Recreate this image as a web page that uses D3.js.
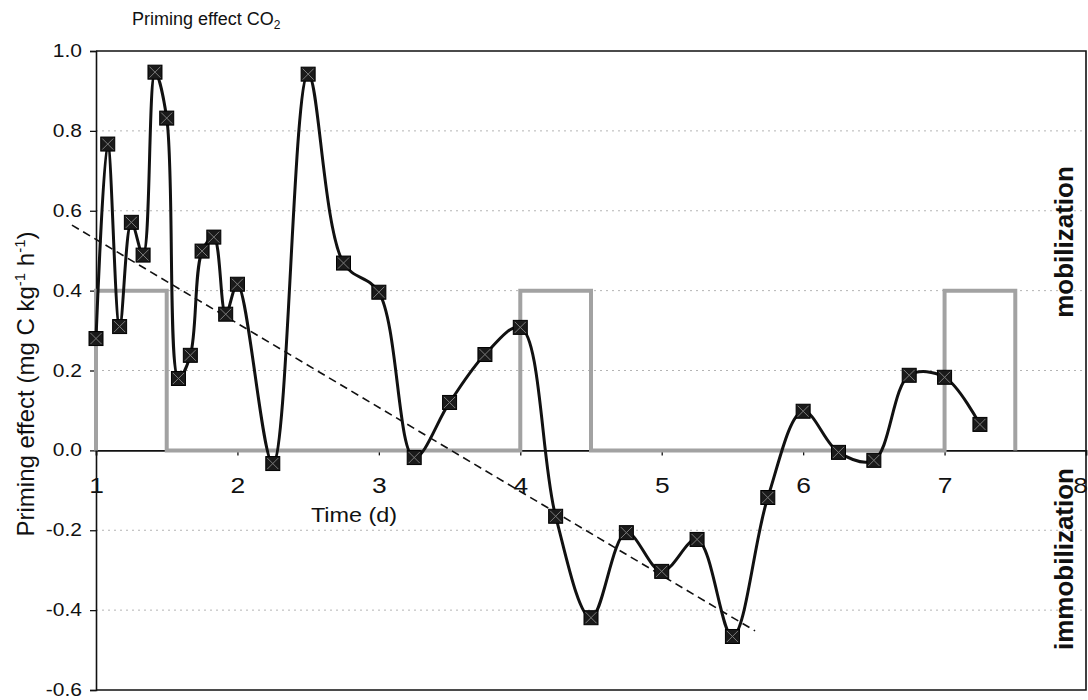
<!DOCTYPE html>
<html>
<head>
<meta charset="utf-8">
<script src="https://cdn.jsdelivr.net/npm/d3@7"></script>
<style>
  body { margin: 0; background: #fff; }
  text { font-family: "Liberation Sans", Arial, sans-serif; fill: #111; }
</style>
</head>
<body>
<script>
// Priming effect measurements (time in days, mg C kg-1 h-1)
const times = [1.0, 1.083, 1.167, 1.25, 1.333, 1.417, 1.5, 1.583, 1.667, 1.75, 1.833, 1.917, 2.0,
               2.25, 2.5, 2.75, 3.0, 3.25, 3.5, 3.75, 4.0, 4.25, 4.5, 4.75, 5.0, 5.25, 5.5, 5.75,
               6.0, 6.25, 6.5, 6.75, 7.0, 7.25];
const priming = [0.28, 0.767, 0.31, 0.571, 0.489, 0.947, 0.832, 0.18, 0.238, 0.499, 0.534, 0.341, 0.416,
                 -0.033, 0.942, 0.469, 0.396, -0.018, 0.12, 0.24, 0.308, -0.165, -0.419, -0.206, -0.303, -0.223, -0.466, -0.118,
                 0.098, -0.005, -0.025, 0.188, 0.183, 0.065];

// substrate pulses (grey step line)
const pulseTime  = [1, 1, 1.5, 1.5, 4, 4, 4.5, 4.5, 7, 7, 7.5, 7.5];
const pulseValue = [0, 0.4, 0.4, 0, 0, 0.4, 0.4, 0, 0, 0.4, 0.4, 0];

// linear trend (dashed)
const trendTime  = [0.83, 5.66];
const trendValue = [0.564, -0.452];

// axis ticks
const xTicks = [1, 2, 3, 4, 5, 6, 7, 8];
const xTickLabels = ["1", "2", "3", "4", "5", "6", "7", "8"];
const yTicks = [-0.6, -0.4, -0.2, 0, 0.2, 0.4, 0.6, 0.8, 1.0];
const yTickLabels = ["-0.6", "-0.4", "-0.2", "0.0", "0.2", "0.4", "0.6", "0.8", "1.0"];
const gridValues = [-0.4, -0.2, 0.2, 0.4, 0.6, 0.8];

const W = 1088, H = 700;
const sx = 1.2; // the scan is a bit wider than tall

const svg = d3.select("body").append("svg")
    .attr("width", W)
    .attr("height", H);

const x = d3.scaleLinear().domain([1, 8]).range([96, 1086]);
const y = d3.scaleLinear().domain([-0.6, 1.0]).range([690, 51]);

// dotted grid
svg.append("g")
   .selectAll("line")
   .data(gridValues)
   .enter()
   .append("line")
   .attr("x1", x(1)).attr("x2", x(8))
   .attr("y1", d => y(d)).attr("y2", d => y(d))
   .attr("stroke", "#b4b4b4")
   .attr("stroke-width", 1)
   .attr("stroke-dasharray", "2,4");

// frame (top, right, bottom)
svg.append("path")
   .attr("d", `M${x(1)},${y(1)}H${x(8)}V${y(-0.6)}H${x(1)}`)
   .attr("fill", "none")
   .attr("stroke", "#111")
   .attr("stroke-width", 1.6);

// y axis
const yAxis = svg.append("g")
   .attr("transform", `translate(${x(1)},0)`)
   .call(d3.axisLeft(y).tickValues(yTicks).tickSize(6).tickPadding(8)
           .tickFormat((d, i) => yTickLabels[i]));
yAxis.select(".domain").attr("stroke", "#111").attr("stroke-width", 1.6);
yAxis.selectAll(".tick line").attr("stroke", "#111").attr("stroke-width", 1.3);
yAxis.selectAll(".tick text")
     .attr("x", -14 / sx)
     .attr("transform", `scale(${sx},1)`)
     .style("font-size", "17.5px")
     .style("font-family", "'Liberation Sans', Arial, sans-serif")
     .attr("fill", "#111");

// x axis at zero
const xAxis = svg.append("g")
   .attr("transform", `translate(0,${y(0)})`)
   .call(d3.axisBottom(x).tickValues(xTicks).tickSize(5).tickPadding(22)
           .tickFormat((d, i) => xTickLabels[i]));
xAxis.select(".domain").attr("stroke", "#111").attr("stroke-width", 1.6);
xAxis.selectAll(".tick line").attr("stroke", "#111").attr("stroke-width", 1.3);
xAxis.selectAll(".tick text")
     .attr("transform", `scale(${sx},1)`)
     .style("font-size", "22px")
     .style("font-family", "'Liberation Sans', Arial, sans-serif")
     .attr("fill", "#111");
// last label sits on the right frame, keep it inside the page
xAxis.selectAll(".tick text")
     .filter(d => d === 8)
     .attr("text-anchor", "end")
     .attr("x", 1.5 / sx);

// grey pulse line
const pulseLine = d3.line()
    .x((d, i) => x(pulseTime[i]))
    .y(d => y(d));
svg.append("path")
   .datum(pulseValue)
   .attr("d", pulseLine)
   .attr("fill", "none")
   .attr("stroke", "#a2a2a2")
   .attr("stroke-width", 4);

// dashed trend
const trendLine = d3.line()
    .x((d, i) => x(trendTime[i]))
    .y(d => y(d));
svg.append("path")
   .datum(trendValue)
   .attr("d", trendLine)
   .attr("fill", "none")
   .attr("stroke", "#111")
   .attr("stroke-width", 1.6)
   .attr("stroke-dasharray", "8,5");

// smoothed priming curve
const curve = d3.line()
    .x((d, i) => x(times[i]))
    .y(d => y(d))
    .curve(d3.curveCatmullRom.alpha(0.5));
svg.append("path")
   .datum(priming)
   .attr("d", curve)
   .attr("fill", "none")
   .attr("stroke", "#111")
   .attr("stroke-width", 3);

// markers: dark square with a cross
const ms = 14;
const markers = svg.append("g")
   .selectAll("g")
   .data(priming)
   .enter()
   .append("g")
   .attr("transform", (d, i) => `translate(${x(times[i])},${y(d)})`);
markers.append("rect")
   .attr("x", -ms / 2).attr("y", -ms / 2)
   .attr("width", ms).attr("height", ms)
   .attr("fill", "#1a1a1a")
   .attr("stroke", "#000")
   .attr("stroke-width", 1);
markers.append("path")
   .attr("d", `M${-ms / 2 + 1.5},${-ms / 2 + 1.5}L${ms / 2 - 1.5},${ms / 2 - 1.5}M${ms / 2 - 1.5},${-ms / 2 + 1.5}L${-ms / 2 + 1.5},${ms / 2 - 1.5}`)
   .attr("stroke", "#7a7a7a")
   .attr("stroke-width", 1);

// title
const title = svg.append("text")
   .attr("x", 132)
   .attr("y", 25)
   .style("font-size", "18px");
title.append("tspan").text("Priming effect CO");
title.append("tspan").attr("dy", 4).style("font-size", "12px").text("2");

// x axis title
svg.append("text")
   .attr("transform", `translate(354,522) scale(${sx},1)`)
   .attr("text-anchor", "middle")
   .style("font-size", "19.5px")
   .text("Time (d)");

// y axis title
const yTitle = svg.append("text")
   .attr("transform", "translate(34,384) rotate(-90)")
   .attr("text-anchor", "middle")
   .style("font-size", "24px");
yTitle.append("tspan").text("Priming effect (mg C kg");
yTitle.append("tspan").attr("dy", -9).style("font-size", "15px").text("-1");
yTitle.append("tspan").attr("dy", 9).text(" h");
yTitle.append("tspan").attr("dy", -9).style("font-size", "15px").text("-1");
yTitle.append("tspan").attr("dy", 9).text(")");

// side labels
const sideLabels = ["mobilization", "immobilization"];
const sideCenters = [242, 559];
svg.append("g")
   .selectAll("text")
   .data(sideLabels)
   .enter()
   .append("text")
   .attr("transform", (d, i) => `translate(1073,${sideCenters[i]}) rotate(-90)`)
   .attr("text-anchor", "middle")
   .style("font-size", "26px")
   .style("font-weight", "bold")
   .text(d => d);
</script>
</body>
</html>
